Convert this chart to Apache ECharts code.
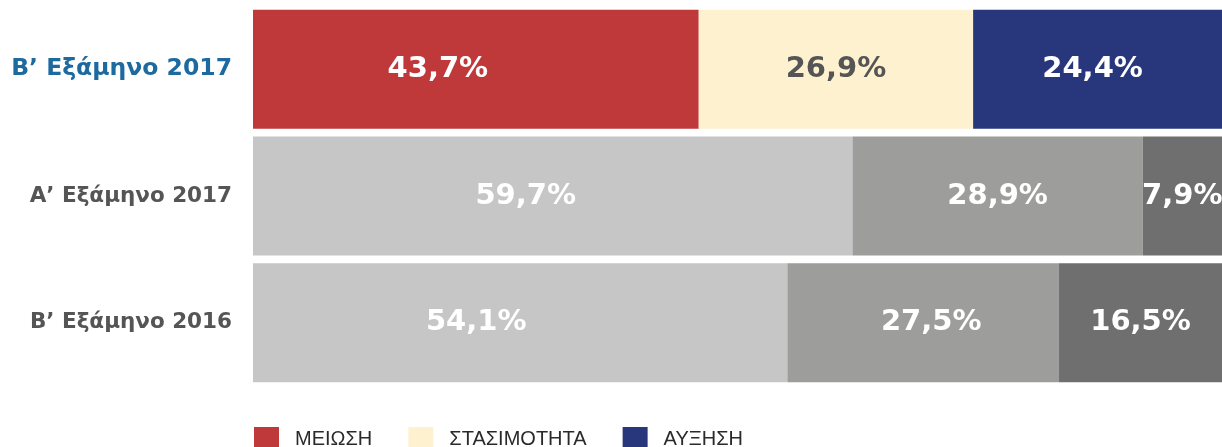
<!DOCTYPE html>
<html>
<head>
<meta charset="utf-8">
<script src="https://cdn.jsdelivr.net/npm/echarts@6/dist/echarts.min.js"></script>
<style>
  html, body { margin: 0; padding: 0; background: #fff; }
  #chart { width: 1222px; height: 447px; }
</style>
</head>
<body>
<div id="chart"></div>
<script>
// periods, top to bottom
var periods = ['Β’ Εξάμηνο 2017', 'Α’ Εξάμηνο 2017', 'Β’ Εξάμηνο 2016'];
var seriesNames = ['ΜΕΙΩΣΗ', 'ΣΤΑΣΙΜΟΤΗΤΑ', 'ΑΥΞΗΣΗ'];
var decrease = [43.7, 59.7, 54.1];
var stable = [26.9, 28.9, 27.5];
var increase = [24.4, 7.9, 16.5];

var mainColors = ['#c0393a', '#fef1cf', '#28377c'];
var greyColors = ['#c6c6c6', '#9d9d9c', '#6f6f6f'];
var labelColors = ['#ffffff', '#555555', '#ffffff'];
// horizontal nudge of the value labels, [series][period]
var labelShift = [[-38, -27, -44], [0, 0, 8], [-5, 0, 0]];

var raw = [decrease, stable, increase];
// each bar fills the full width (shares of its own total)
var totals = periods.map(function (p, i) {
    return decrease[i] + stable[i] + increase[i];
});

var chart = echarts.init(document.getElementById('chart'));

var series = raw.map(function (vals, s) {
    return {
        name: seriesNames[s],
        type: 'bar',
        stack: 'all',
        barCategoryGap: '6%',
        itemStyle: { color: mainColors[s] },
        data: vals.map(function (v, i) {
            return {
                value: v / totals[i] * 100,
                raw: v,
                itemStyle: { color: i === 0 ? mainColors[s] : greyColors[s] },
                label: {
                    color: i === 0 ? labelColors[s] : '#ffffff',
                    offset: [labelShift[s][i], 0]
                }
            };
        }),
        label: {
            show: true,
            position: 'inside',
            fontFamily: 'DejaVu Sans',
            fontWeight: 'bold',
            fontSize: 29,
            formatter: function (p) {
                return p.data.raw.toFixed(1).replace('.', ',') + '%';
            }
        },
        emphasis: { disabled: true }
    };
});

var option = {
    animation: false,
    grid: { left: 253, right: 0, top: 6, bottom: 61 },
    legend: {
        data: seriesNames,
        left: 254,
        top: 427,
        padding: 0,
        itemWidth: 25,
        itemHeight: 25,
        itemGap: 36,
        icon: 'rect',
        textStyle: {
            fontFamily: 'Liberation Sans',
            fontSize: 20,
            color: '#2a2a2a',
            padding: [0, 0, 0, 11]
        }
    },
    xAxis: {
        type: 'value',
        min: 0,
        max: 100,
        show: false
    },
    yAxis: {
        type: 'category',
        inverse: true,
        data: periods,
        axisLine: { show: false },
        axisTick: { show: false },
        axisLabel: {
            margin: 21,
            formatter: function (v, i) {
                return i === 0 ? '{a|' + v + '}' : '{b|' + v + '}';
            },
            rich: {
                a: { fontFamily: 'DejaVu Sans', fontWeight: 'bold', fontSize: 23.5, color: '#1d6aa1' },
                b: { fontFamily: 'DejaVu Sans', fontWeight: 'bold', fontSize: 21.5, color: '#555555' }
            }
        }
    },
    series: series
};

option && chart.setOption(option);
</script>
</body>
</html>
